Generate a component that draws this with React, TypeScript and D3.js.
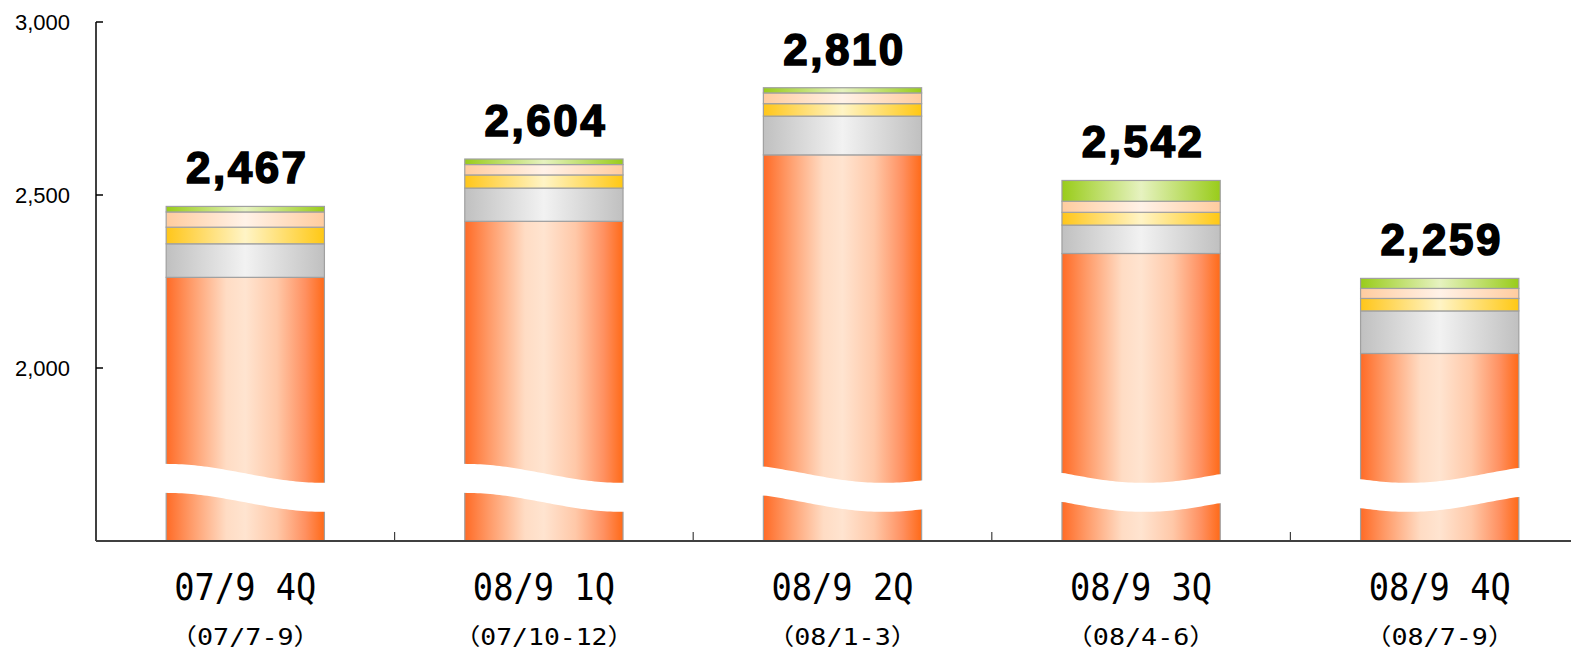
import React from 'react';
import * as d3 from 'd3';

// Quarterly figures, stacked from the bottom segment upward
const categories = ['07/9 4Q', '08/9 1Q', '08/9 2Q', '08/9 3Q', '08/9 4Q'];
const periods = ['（07/7-9）', '（07/10-12）', '（08/1-3）', '（08/4-6）', '（08/7-9）'];
const seriesOrange = [2262, 2424, 2616, 2331, 2042];
const seriesGray = [97, 96, 112, 82, 123];
const seriesYellow = [48, 38, 36, 37, 36];
const seriesPeach = [44, 30, 31, 32, 29];
const seriesGreen = [16, 16, 15, 60, 29];
const totals = [2467, 2604, 2810, 2542, 2259];
const yTicks = [2000, 2500, 3000];
const yDomain = [1500, 3000];
// where the wavy axis-break dips lowest across each bar (0 = left edge, 1 = right edge)
const breakTrough = [1.0, 1.0, 0.76, 0.52, 0.3];

const W = 1571;
const H = 650;
const left = 96;
const top = 22;
const bottom = 541;
const right = 1589;

const gradients: Record<string, [number, string][]> = {
  orange: [[0, '#ff6b26'], [0.15, '#ff9966'], [0.38, '#ffdcc4'], [0.5, '#ffe4d0'], [0.7, '#ffc8a8'], [0.88, '#ff9060'], [1, '#ff6a18']],
  gray: [[0, '#c0c0c0'], [0.5, '#f2f2f2'], [1, '#c0c0c0']],
  yellow: [[0, '#ffc61a'], [0.5, '#fff4c6'], [1, '#ffc814']],
  peach: [[0, '#ffcc9f'], [0.5, '#fff2e8'], [1, '#ffcc9f']],
  green: [[0, '#99cc1a'], [0.5, '#e6f2c0'], [1, '#99cc1a']],
};

const stackKeys = ['orange', 'gray', 'yellow', 'peach', 'green'];
const stackSeries = [seriesOrange, seriesGray, seriesYellow, seriesPeach, seriesGreen];

function halfUnits(s: string) {
  let n = 0;
  for (const ch of s) n += ch.charCodeAt(0) > 0xff ? 2 : 1;
  return n;
}

export default function App() {
  const x = d3.scaleBand<string>().domain(categories).range([left, right]).paddingInner(0.47).paddingOuter(0.235);
  const y = d3.scaleLinear().domain(yDomain).range([bottom, top]);
  const step = x.step();
  const bw = x.bandwidth();
  const fmt = d3.format(',');

  const breakBase = y(1668);
  const breakAmp = 19;
  const breakGap = 29;

  return (
    <svg width={W} height={H} style={{ position: 'absolute', left: 0, top: 0, display: 'block', background: '#fff' }}>
      <defs>
        {Object.entries(gradients).map(([k, stops]) => (
          <linearGradient key={k} id={`g-${k}`} x1="0" x2="1" y1="0" y2="0">
            {stops.map(([o, c], i) => (
              <stop key={i} offset={o} stopColor={c} />
            ))}
          </linearGradient>
        ))}
      </defs>

      {categories.map((c, i) => {
        const x0 = x(c)!;
        let acc = 0;
        const rects = stackSeries.map((s, k) => {
          const v0 = acc;
          const v1 = acc + s[i];
          acc = v1;
          const y0 = k === 0 ? y(yDomain[0]) : y(v0);
          return (
            <rect key={k} x={x0} y={y(v1)} width={bw} height={y0 - y(v1)}
              fill={`url(#g-${stackKeys[k]})`} stroke="#a0a0a0" strokeWidth={1.2} />
          );
        });
        // white wavy break band
        const tr = breakTrough[i];
        const pts = d3.range(0, 1.0001, 0.02).map((t) => {
          const d = Math.abs(t - tr);
          return [x0 + t * bw, breakBase - breakAmp * (1 - Math.cos(Math.PI * d)) / 2] as [number, number];
        });
        const upper = pts.map(([px, py], j) => [j === 0 ? px - 3 : j === pts.length - 1 ? px + 3 : px, py] as [number, number]);
        const lower = upper.slice().reverse().map(([px, py]) => [px, py + breakGap] as [number, number]);
        const band = d3.line()([...upper, ...lower]) + 'Z';
        const cx = x0 + bw / 2;
        return (
          <g key={c}>
            {rects}
            <path d={band} fill="#fff" />
            <text x={cx + 2} y={y(totals[i]) - 23} textAnchor="middle" fontFamily="'Liberation Sans', Arial, sans-serif"
              fontWeight={700} fontSize={44} letterSpacing={2.5} stroke="#000" strokeWidth={1.6} fill="#000">{fmt(totals[i])}</text>
            <text x={cx} y={600} textAnchor="middle" fontFamily="'DejaVu Sans Mono', monospace" fontSize={37}
              textLength={halfUnits(c) * 20.3} lengthAdjust="spacingAndGlyphs" fill="#000">{c}</text>
            <text x={cx} y={645} textAnchor="middle" fontFamily="'DejaVu Sans Mono', 'Noto Sans CJK JP', monospace" fontSize={23}
              textLength={halfUnits(periods[i]) * 15} lengthAdjust="spacingAndGlyphs" fill="#000">{periods[i]}</text>
          </g>
        );
      })}

      {/* y axis */}
      <line x1={left} x2={left} y1={top} y2={bottom} stroke="#000" strokeWidth={1.5} />
      {yTicks.map((t) => (
        <g key={t}>
          <line x1={left} x2={left + 7} y1={y(t)} y2={y(t)} stroke="#000" strokeWidth={1.5} />
          <text x={70} y={y(t) + 7.5} textAnchor="end" fontFamily="'Liberation Sans', Arial, sans-serif" fontSize={22} fill="#000">
            {fmt(t)}
          </text>
        </g>
      ))}

      {/* x axis */}
      <line x1={left} x2={W} y1={bottom} y2={bottom} stroke="#404040" strokeWidth={2} />
      {d3.range(1, categories.length + 1).map((j) => (
        <line key={j} x1={left + j * step} x2={left + j * step} y1={bottom} y2={bottom - 9} stroke="#404040" strokeWidth={1.2} />
      ))}
    </svg>
  );
}
